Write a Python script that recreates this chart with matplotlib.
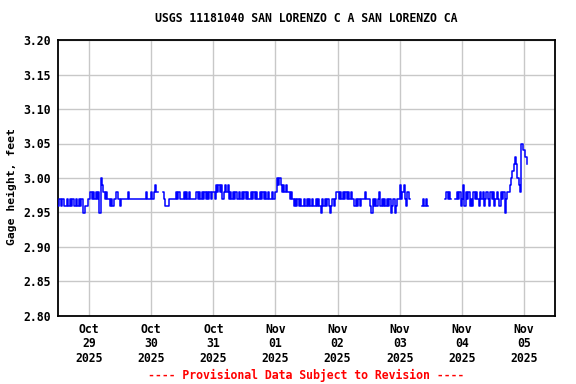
import numpy as np
import pandas as pd
import matplotlib
matplotlib.use("Agg")
import matplotlib.pyplot as plt
import matplotlib.dates as mdates

# gage height, one character per half hour
# starting 2025-10-28 12:00.  char = hundredths above 2.90 ft in hex
# ('7' -> 2.97, 'A' -> 3.00, 'F' -> 3.05), '-' = no data
oct28 = "676776676767667676755667"
oct29 = ("78787878" "5A9" "878" "77" "676" "77" "8" "77" "6" "77777" "8"
         "7777777777777" "8" "777")
oct30 = ("87898" "----" "8" "7" "666" "77777" "878" "777" "878787" "7777" "8"
         "787878787878")
oct31 = "87" "9898978989" "78787877" "87878787" "78787877" "87878787" "7877"
nov01 = ("8" "A9A9" "8989" "88" "787" "676767667676767667676" "5" "767676"
         "5" "676" "78")
nov02 = ("878787878787" "7676767" "778777" "6" "5" "76767" "8" "67676767"
         "5" "67" "5" "6" "77")
nov03 = ("9" "78" "9" "7687" "---------" "67676" "-------------" "78787"
         "---" "78786")
nov04 = ("7" "9" "68786" "76878" "76878" "67876" "87867" "87687" "8" "5"
         "7889ABCDCA98FE")
nov05 = "EDC"

days = [oct28, oct29, oct30, oct31, nov01, nov02, nov03, nov04, nov05]
for d in days[1:-1]:
    assert len(d) == 48, (d, len(d))

codes = "".join(days)
gage = np.array([np.nan if c == "-" else 2.90 + int(c, 16) / 100 for c in codes])
times = pd.date_range("2025-10-28 12:00", periods=len(gage), freq="30min")

y_ticks = [2.80, 2.85, 2.90, 2.95, 3.00, 3.05, 3.10, 3.15, 3.20]

plt.rcParams["font.family"] = "DejaVu Sans Mono"
plt.rcParams["font.weight"] = "bold"

fig = plt.figure(figsize=(5.76, 3.84), dpi=100)
ax = fig.add_axes([58 / 576, 1 - 316 / 384, 497 / 576, 276 / 384])

ax.plot(times, gage, color="#0000ff", lw=1.1, drawstyle="steps-post", zorder=3)

ax.set_xlim(pd.Timestamp("2025-10-28 12:00"), pd.Timestamp("2025-11-05 12:00"))
ax.set_ylim(2.80, 3.20)
ax.set_yticks(y_ticks)
ax.yaxis.set_major_formatter(matplotlib.ticker.FormatStrFormatter("%.2f"))
ax.xaxis.set_major_locator(mdates.DayLocator())
ax.xaxis.set_major_formatter(mdates.DateFormatter("%b\n%d\n%Y"))

ax.grid(color="#c8c8c8", lw=1)
ax.set_axisbelow(True)
for s in ax.spines.values():
    s.set_linewidth(1.3)
ax.tick_params(length=0, labelsize=8.3, pad=5)
for lab in ax.get_xticklabels():
    lab.set_linespacing(1.15)

xc = (58 + 555) / 2 / 576
fig.text(12 / 576, 1 - 187 / 384, "Gage height, feet", rotation=90,
         ha="center", va="center", fontsize=8.2)
fig.text(xc, 1 - 19 / 384, "USGS 11181040 SAN LORENZO C A SAN LORENZO CA",
         ha="center", va="center", fontsize=8.3)
fig.text(xc, 1 - 375 / 384, "---- Provisional Data Subject to Revision ----",
         ha="center", va="center", fontsize=8.3, color="red")

fig.savefig("out.png", dpi=100)
